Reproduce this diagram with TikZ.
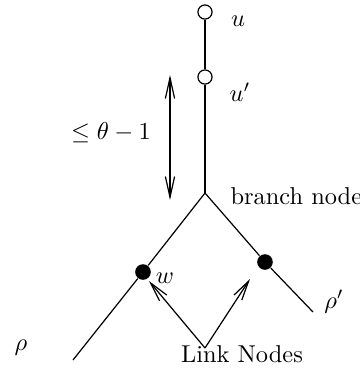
\documentclass[tikz,border=0pt]{standalone}
\usetikzlibrary{arrows.meta}
\begin{document}
\begin{tikzpicture}[x=0.41pt,y=-0.41pt,line width=0.5pt,
  hollow/.style={circle,draw,inner sep=0pt,minimum size=5.8pt},
  solid/.style={circle,fill,inner sep=0pt,minimum size=6.4pt},
  barb/.style={-{Straight Barb[length=8pt,width=3.8pt]}},
  dbarb/.style={{Straight Barb[length=8.5pt,width=3.8pt]}-{Straight Barb[length=8.5pt,width=3.8pt]}},
  lbl/.style={inner sep=0pt}]
\useasboundingbox (0,0) rectangle (360,369);
\node[hollow] (u) at (205,12) {};
\node[hollow] (up) at (205,77) {};
\coordinate (b) at (205,193);
\coordinate (lend) at (73,360);
\coordinate (rend) at (313,312);
\node[solid] (w) at (143,272) {};
\node[solid] (w2) at (265,262) {};
\coordinate (apex) at (205,348);
\coordinate (wt) at (149,281);
\coordinate (w2t) at (250,279);
\coordinate (at) at (170,75);
\coordinate (ab) at (170,200);
\draw (u) -- (up);
\draw (up) -- (b);
\draw (b) -- (w) -- (lend);
\draw (b) -- (w2) -- (rend);
\draw[barb] (apex) -- (wt);
\draw[barb] (apex) -- (w2t);
\draw[dbarb] (at) -- (ab);
\node[lbl] (lu) at (238,21) {$u$};
\node[lbl] (lup) at (240,92) {$u'$};
\node[lbl] (lth) at (111,133) {$\leq\theta-1$};
\node[lbl,anchor=base west] (lbr) at (230,204) {branch node};
\node[lbl] (lw) at (165,278) {$w$};
\node[lbl] (lrho) at (21,348) {$\rho$};
\node[lbl] (lrhop) at (334,302) {$\rho'$};
\node[lbl,anchor=base] (lln) at (242,362) {Link Nodes};
\end{tikzpicture}
\end{document}
